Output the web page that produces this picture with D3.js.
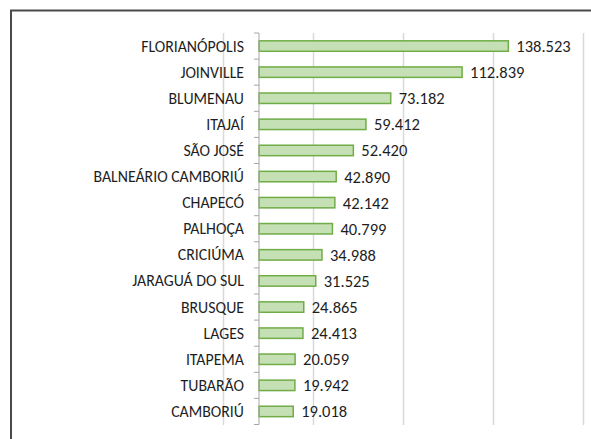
<!DOCTYPE html>
<html>
<head>
<meta charset="utf-8">
<script src="https://cdn.jsdelivr.net/npm/d3@7"></script>
<style>
  html, body { margin: 0; padding: 0; background: #fff; }
  svg { display: block; }
</style>
</head>
<body>
<div id="chart"></div>
<script>
// ── Data ───────────────────────────────────────────────────────────────────
const CITIES = [
  "FLORIANÓPOLIS", "JOINVILLE", "BLUMENAU", "ITAJAÍ", "SÃO JOSÉ",
  "BALNEÁRIO CAMBORIÚ", "CHAPECÓ", "PALHOÇA", "CRICIÚMA", "JARAGUÁ DO SUL",
  "BRUSQUE", "LAGES", "ITAPEMA", "TUBARÃO", "CAMBORIÚ"
];
const VALUES = [
  138523, 112839, 73182, 59412, 52420,
  42890, 42142, 40799, 34988, 31525,
  24865, 24413, 20059, 19942, 19018
];
const GRID_TICKS = [-20000, 30000, 80000, 130000, 180000];

(function () {
  "use strict";

  const W = 591, H = 439;
  const FONT = "Carlito, 'Liberation Sans Narrow', 'DejaVu Sans Condensed', 'Open Sans', sans-serif";
  const ptBR = d3.formatLocale({ decimal: ",", thousands: ".", grouping: [3], currency: ["R$", ""] });
  const fmt = ptBR.format(",d");

  const svg = d3.select("#chart").append("svg")
    .attr("width", W).attr("height", H);

  svg.append("rect").attr("width", W).attr("height", H).attr("fill", "#fff");

  // frame (only left and top edges are visible)
  svg.append("path")
    .attr("d", `M11,${H} V10.5 H${W}`)
    .attr("fill", "none")
    .attr("stroke", "#4a4a4a")
    .attr("stroke-width", 2);

  const data = CITIES.map((c, i) => ({ city: c, value: VALUES[i] }));

  const x = d3.scaleLinear().domain([-20000, 180000]).range([223, 583]);
  const y = d3.scaleBand().domain(CITIES).range([33, 424.5]).paddingInner(0.6).paddingOuter(0.3);
  const x0 = x(0);

  // grid
  svg.append("g").selectAll("line").data(GRID_TICKS).join("line")
    .attr("x1", d => Math.round(x(d)) + 0.5).attr("x2", d => Math.round(x(d)) + 0.5)
    .attr("y1", 33).attr("y2", 425)
    .attr("stroke", "#d9d9d9").attr("stroke-width", 1.5);

  // bars
  svg.append("g").selectAll("rect").data(data).join("rect")
    .attr("x", x0)
    .attr("y", d => y(d.city))
    .attr("width", d => x(d.value) - x0)
    .attr("height", y.bandwidth())
    .attr("fill", "#c5e0b4")
    .attr("stroke", "#70ad47")
    .attr("stroke-width", 1.5);

  // y axis with ticks at band boundaries
  const yAxis = svg.append("g");
  yAxis.append("line")
    .attr("x1", x0).attr("x2", x0)
    .attr("y1", 33).attr("y2", 424.5)
    .attr("stroke", "#a6a6a6").attr("stroke-width", 1);
  const bounds = d3.range(CITIES.length + 1).map(i => 33 + i * (424.5 - 33) / CITIES.length);
  yAxis.selectAll("line.tk").data(bounds).join("line")
    .attr("class", "tk")
    .attr("x1", x0 - 5).attr("x2", x0)
    .attr("y1", d => d).attr("y2", d => d)
    .attr("stroke", "#a6a6a6").attr("stroke-width", 1);

  // category labels
  svg.append("g").selectAll("text").data(data).join("text")
    .attr("x", x0 - 15)
    .attr("y", d => y(d.city) + y.bandwidth() / 2)
    .attr("text-anchor", "end")
    .attr("dominant-baseline", "central")
    .attr("font-family", FONT)
    .attr("font-size", 15.8)
    .attr("fill", "#1e1e1e")
    .text(d => d.city);

  // value labels
  svg.append("g").selectAll("text").data(data).join("text")
    .attr("x", d => x(d.value) + 8)
    .attr("y", d => y(d.city) + y.bandwidth() / 2)
    .attr("dominant-baseline", "central")
    .attr("font-family", FONT)
    .attr("font-size", 16.5)
    .attr("fill", "#1e1e1e")
    .text(d => fmt(d.value));
})();
</script>
</body>
</html>
